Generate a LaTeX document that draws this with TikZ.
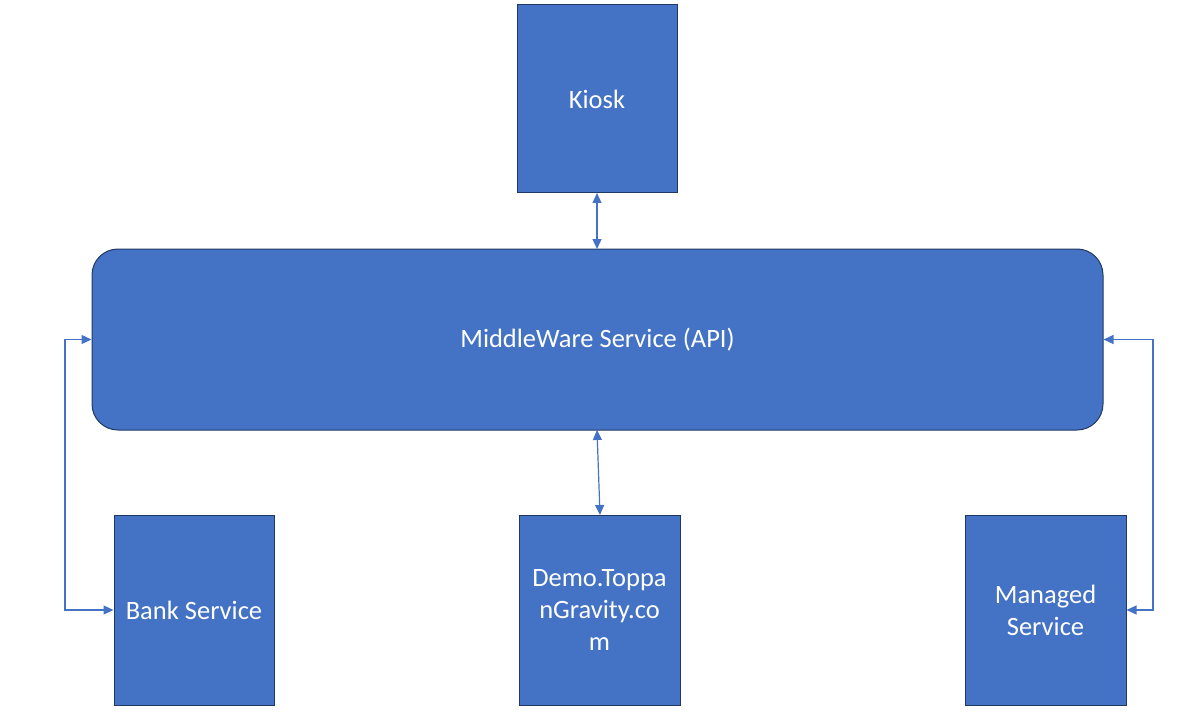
\documentclass[tikz,border=0pt]{standalone}
\usepackage{fontspec}
\setmainfont{Carlito}
\usetikzlibrary{arrows.meta}
\definecolor{boxfill}{HTML}{4472C4}
\definecolor{boxline}{HTML}{203864}
\definecolor{conn}{HTML}{4472C4}
\begin{document}
\begin{tikzpicture}[x=1pt,y=-1pt,
  blk/.style={draw=boxline,line width=1pt,fill=boxfill,text=white,align=center,inner sep=0pt,font=\fontsize{26.5}{32}\selectfont},
  link/.style={draw=conn,line width=1.2pt,{Triangle[length=10pt,width=9pt]}-{Triangle[length=10pt,width=9pt]},shorten <=0pt,shorten >=0pt}]
\useasboundingbox (0,0) rectangle (1180,722);
\node[blk,minimum width=160pt,minimum height=188pt] (kiosk) at (597,99) {Kiosk};
\node[blk,rounded corners=26pt,minimum width=1011pt,minimum height=181pt] (mw) at (597.5,339.5) {MiddleWare Service (API)};
\node[blk,minimum width=160pt,minimum height=190pt] (bank) at (194,610) {Bank Service};
\node[blk,minimum width=161pt,minimum height=190pt,text width=150pt] (demo) at (599.5,610) {Demo.Toppa\\nGravity.co\\m};
\node[blk,minimum width=161pt,minimum height=190pt] (managed) at (1045.5,610) {Managed\\Service};
\coordinate (kb) at (597,193);
\coordinate (mt) at (597,249);
\coordinate (mb) at (597,430);
\coordinate (dt) at (600,515);
\draw[link] (kb) -- (mt);
\draw[link] (mb) -- (dt);
\draw[link] (mw.west) -- (65,339.5) |- (bank.west);
\draw[link] (mw.east) -- (1153,339.5) |- (managed.east);
\end{tikzpicture}
\end{document}
